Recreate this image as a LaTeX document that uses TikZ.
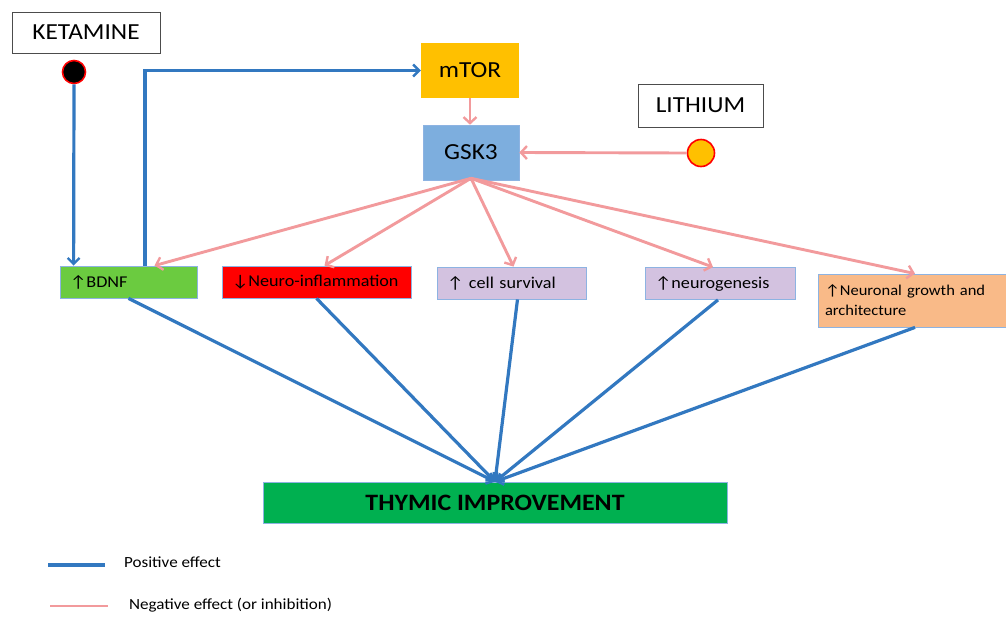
\documentclass[tikz,border=0pt]{standalone}
\usepackage{fontspec}
\setmainfont{Carlito}[FakeStretch=1.1]
\usetikzlibrary{arrows.meta,calc}
\definecolor{posblue}{HTML}{3278C0}
\definecolor{negpink}{HTML}{F29A9C}
\definecolor{mtorc}{HTML}{FFC000}
\definecolor{gskc}{HTML}{7DAEDE}
\definecolor{bdnfc}{HTML}{6BCB40}
\definecolor{lavc}{HTML}{D3C2E0}
\definecolor{peachc}{HTML}{F9BA88}
\definecolor{thymc}{HTML}{00B050}
\definecolor{edgec}{HTML}{8DB3E2}
\tikzset{
  posarrow/.style={draw=posblue,line width=3.2pt,-{Straight Barb[length=6pt,width=12pt,line width=2.4pt]}},
  posline/.style={draw=posblue,line width=3.2pt},
  negarrow/.style={draw=negpink,line width=2.9pt,-{Straight Barb[length=6pt,width=13pt,line width=2.4pt]}},
  negline/.style={draw=negpink,line width=2.9pt},
  drug/.style={draw=black!70,line width=0.8pt,fill=white,inner sep=0pt,font=\fontsize{23}{25}\selectfont},
  effbox/.style={draw=edgec,line width=0.8pt,minimum height=32pt,inner xsep=10pt,inner ysep=0pt,align=left,font=\fontsize{16.5}{19}\selectfont},
  molbox/.style={draw=none,inner sep=0pt,font=\fontsize{23}{26}\selectfont},
}
\begin{document}
\begin{tikzpicture}[x=1pt,y=-1pt]
\useasboundingbox (0,0) rectangle (1006,616);
% drugs
\node[drug,minimum width=148pt,minimum height=41pt] (ket) at (86,32.5) {KETAMINE};
\node[circle,draw=red,line width=1.6pt,fill=black,minimum size=23pt,inner sep=0pt] (ketc) at (74,72) {};
\node[drug,minimum width=125pt,minimum height=43pt] (lith) at (700.5,105.5) {LITHIUM};
\node[circle,draw=red,line width=1.6pt,fill=mtorc,minimum size=27pt,inner sep=0pt] (lithc) at (701,153) {};
% molecules
\node[molbox,fill=mtorc,minimum width=98pt,minimum height=55pt] (mtor) at (470,70.5) {mTOR};
\node[molbox,fill=gskc,draw=edgec,line width=0.6pt,minimum width=96pt,minimum height=55pt] (gsk) at (471,152.5) {GSK3};
% effects
\node[effbox,fill=bdnfc,text width=117pt] (bdnf) at (128.5,282) {↑BDNF};
\node[effbox,fill=red,text width=169pt] (neuro) at (316.5,282) {↓Neuro-inflammation};
\node[effbox,fill=lavc,text width=129pt] (cell) at (511.5,283) {↑ cell survival};
\node[effbox,fill=lavc,text width=130pt] (neurog) at (720,283.5) {↑neurogenesis};
\node[effbox,fill=peachc,text width=174pt,inner xsep=7pt,minimum height=53pt,font=\fontsize{15}{20}\selectfont] (growth) at (912,300.5) {↑Neuronal growth and\\architecture};
% outcome
\node[fill=thymc,draw=edgec,line width=0.6pt,minimum width=464pt,minimum height=41pt,inner sep=0pt,font=\bfseries\fontsize{23.5}{26}\selectfont] (thym) at (495,502.5) {THYMIC IMPROVEMENT};
% ketamine connectors
\draw[posarrow] (ketc.south) -- ([xshift=14pt]bdnf.north west);
\draw[posarrow] ([xshift=16.5pt]bdnf.north) |- (mtor.west);
% mTOR -> GSK3
\draw[negarrow] (mtor.south) -- ([xshift=-1pt]gsk.north);
% lithium -> GSK3
\draw[negarrow] (lithc.west) -- (gsk.east);
% GSK3 -> effects
\coordinate (gs) at ([yshift=2pt]gsk.south);
\draw[negarrow] (gs) -- ([xshift=26pt]bdnf.north);
\draw[negarrow] (gs) -- ([xshift=8pt]neuro.north);
\draw[negarrow] (gs) -- ([xshift=2pt]cell.north);
\draw[negarrow] (gs) -- ([xshift=-7pt]neurog.north);
\draw[negarrow] (gs) -- ([xshift=3pt]growth.north);
% effects -> thymic
\draw[posarrow] (bdnf.south) -- (thym.north);
\draw[posarrow] (neuro.south) -- (thym.north);
\draw[posarrow] ([xshift=6pt]cell.south) -- (thym.north);
\draw[posarrow] ([xshift=-2pt]neurog.south) -- (thym.north);
\draw[posarrow] ([xshift=3pt]growth.south) -- (thym.north);
% legend
\coordinate (lp1) at (48,565);
\coordinate (lp2) at (105,565);
\coordinate (ln1) at (50,606);
\coordinate (ln2) at (108,606);
\draw[posline] (lp1) -- (lp2);
\draw[negline] (ln1) -- (ln2);
\node[anchor=west,inner sep=0pt,font=\fontsize{15.5}{17}\selectfont] (lpt) at (124,562.5) {Positive effect};
\node[anchor=west,inner sep=0pt,font=\fontsize{15.5}{17}\selectfont] (lnt) at (129,605.5) {Negative effect (or inhibition)};
\end{tikzpicture}
\end{document}
